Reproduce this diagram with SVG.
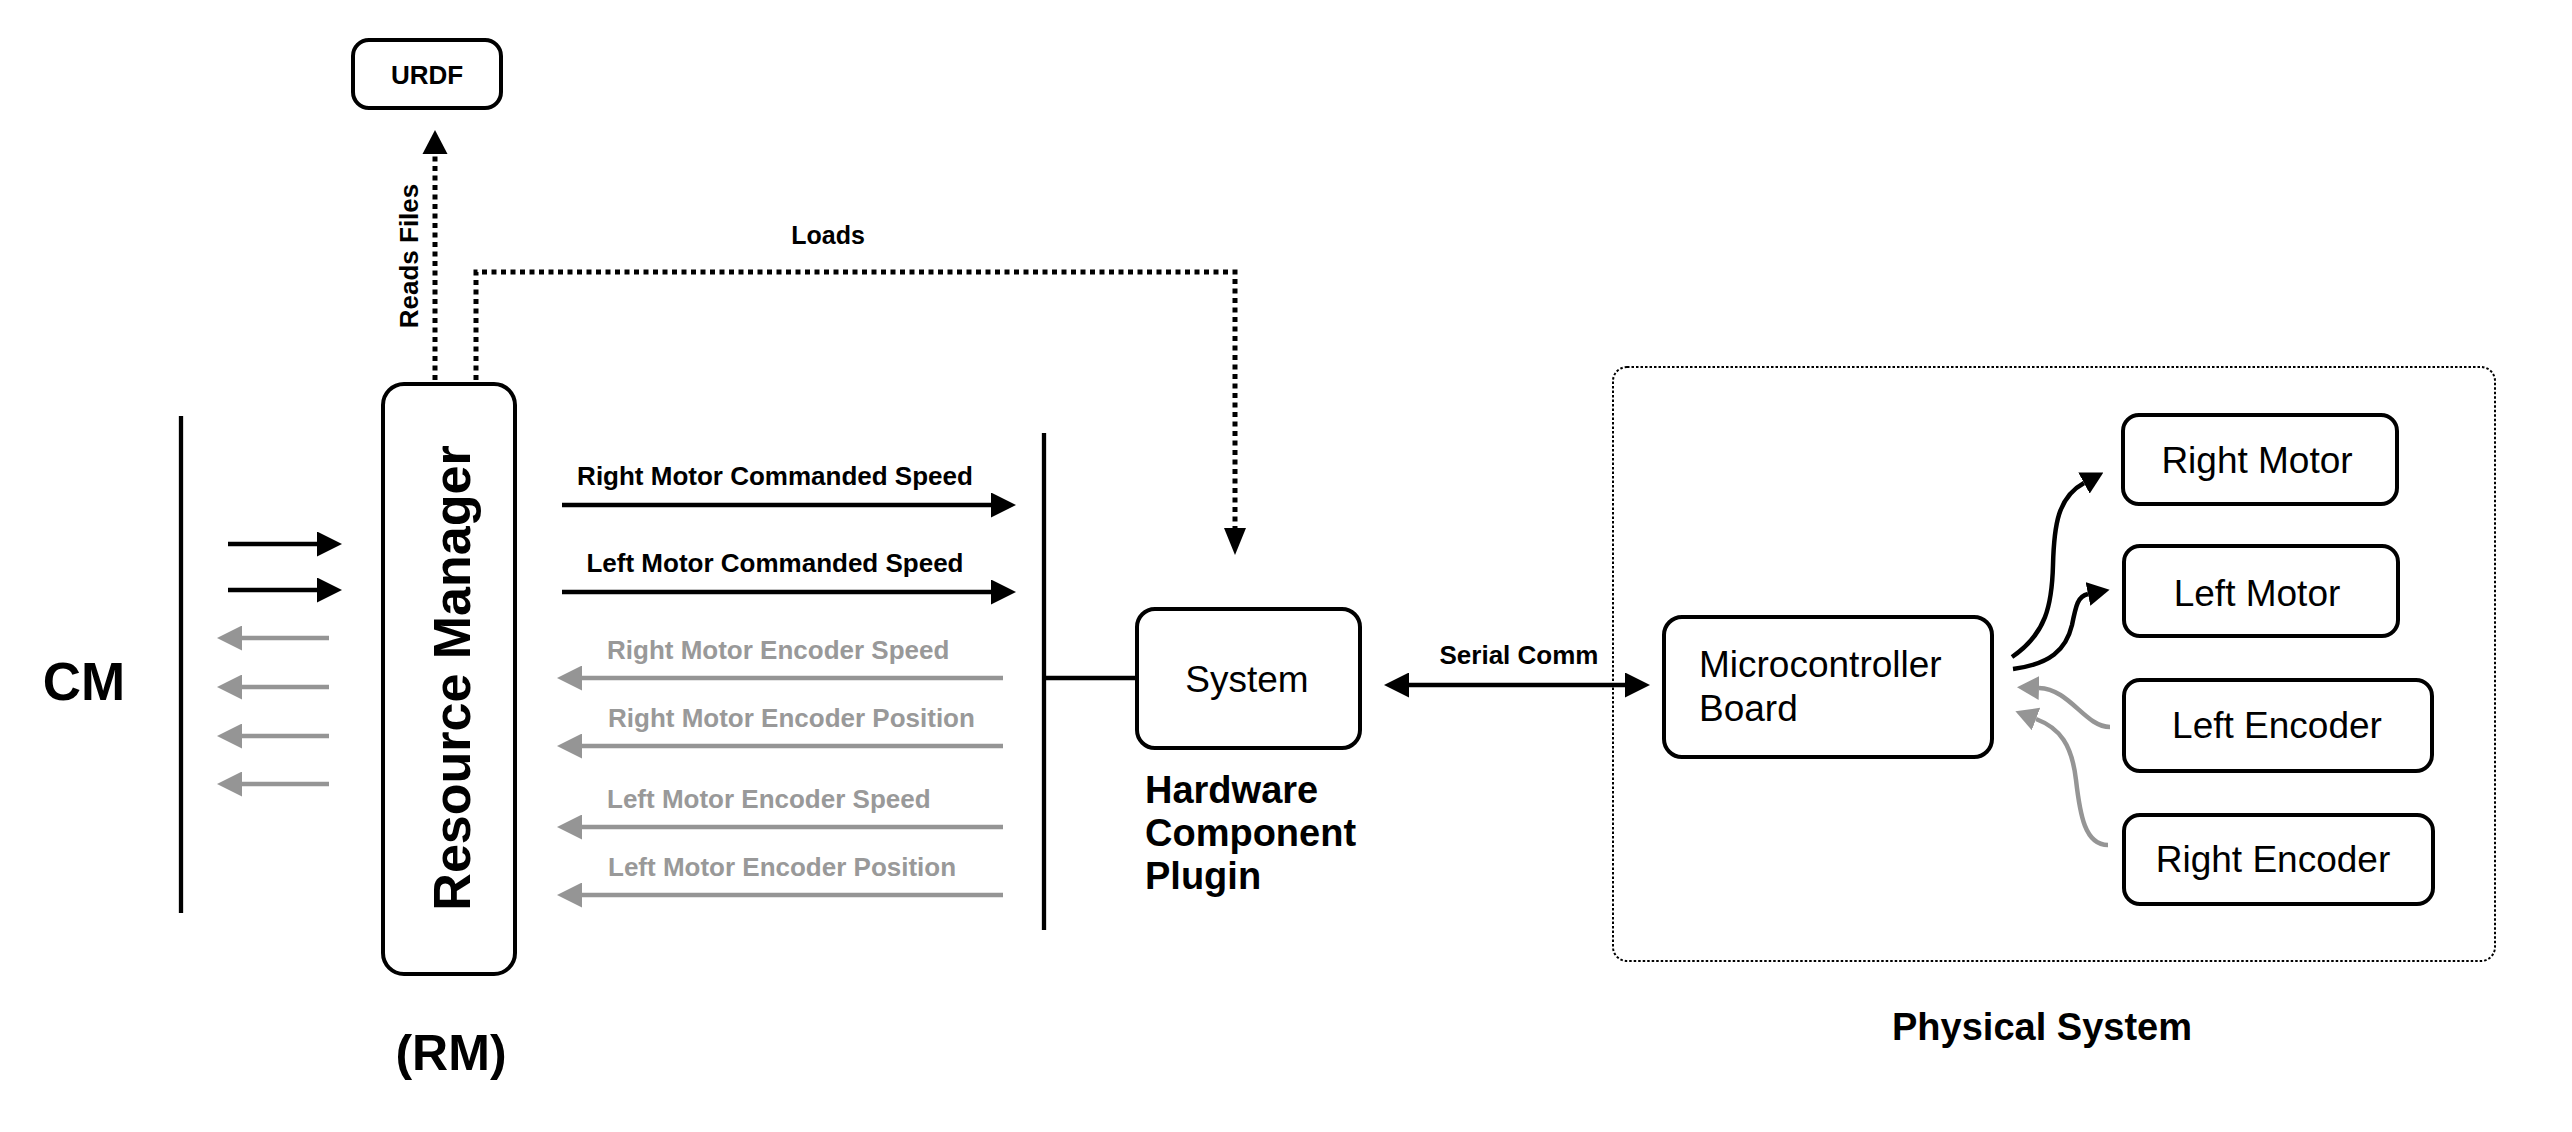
<svg xmlns="http://www.w3.org/2000/svg" width="2572" height="1132" viewBox="0 0 2572 1132">
  <style>
    text { font-family: "Liberation Sans", Arial, Helvetica, sans-serif; fill: #000; }
    .b { font-weight: bold; }
    .box { fill: #fff; stroke: #000; stroke-width: 4; }
    .ln { stroke: #000; stroke-width: 4.5; fill: none; }
    .gl { stroke: #959595; stroke-width: 4.5; fill: none; }
    .dot { stroke: #000; stroke-width: 5; fill: none; stroke-dasharray: 5 4.5; }
    .gt { fill: #999; font-weight: bold; font-size: 26px; }
    .lbl { font-weight: bold; font-size: 26px; }
    .node { font-size: 37px; }
  </style>
  <defs>
    <marker id="ab" markerUnits="userSpaceOnUse" viewBox="0 0 25 25" refX="0" refY="12.5" markerWidth="25" markerHeight="25" orient="auto-start-reverse">
      <path d="M0,0 L25,12.5 L0,25 Z" fill="#000"/>
    </marker>
    <marker id="ag" markerUnits="userSpaceOnUse" viewBox="0 0 25 25" refX="0" refY="12.5" markerWidth="25" markerHeight="25" orient="auto">
      <path d="M0,0 L25,12.5 L0,25 Z" fill="#959595"/>
    </marker>
    <marker id="abs" markerUnits="userSpaceOnUse" viewBox="0 0 22 24" refX="0" refY="12" markerWidth="22" markerHeight="24" orient="auto">
      <path d="M0,0 L22,12 L0,24 Z" fill="#000"/>
    </marker>
    <marker id="ags" markerUnits="userSpaceOnUse" viewBox="0 0 22 24" refX="0" refY="12" markerWidth="22" markerHeight="24" orient="auto">
      <path d="M0,0 L22,12 L0,24 Z" fill="#959595"/>
    </marker>
  </defs>

  <rect width="2572" height="1132" fill="#fff"/>

  <!-- Physical system container -->
  <g id="physical-system">
    <rect x="1613" y="367" width="882" height="594" rx="14" fill="none" stroke="#000" stroke-width="2" stroke-dasharray="2.5 2"/>
    <text class="b" x="2042" y="1040" font-size="38" text-anchor="middle">Physical System</text>
  </g>

  <!-- Connectors -->
  <g id="connectors">
    <!-- Reads Files -->
    <line class="dot" x1="435" y1="380" x2="435" y2="154"/>
    <path d="M422.5,154 L435,130 L447.5,154 Z" fill="#000"/>
    <text class="b" font-size="26" text-anchor="middle" transform="translate(418,256) rotate(-90)">Reads Files</text>
    <!-- Loads -->
    <path class="dot" d="M476,380 L476,272 L1235,272 L1235,528"/>
    <path d="M1224,528 L1235,555 L1246,528 Z" fill="#000"/>
    <text class="b" x="828" y="244" font-size="25" text-anchor="middle">Loads</text>

    <!-- CM <-> RM -->
    <line class="ln" x1="228" y1="544" x2="317" y2="544" marker-end="url(#ab)"/>
    <line class="ln" x1="228" y1="590" x2="317" y2="590" marker-end="url(#ab)"/>
    <line class="gl" x1="329" y1="638" x2="242" y2="638" marker-end="url(#ag)"/>
    <line class="gl" x1="329" y1="687" x2="242" y2="687" marker-end="url(#ag)"/>
    <line class="gl" x1="329" y1="736" x2="242" y2="736" marker-end="url(#ag)"/>
    <line class="gl" x1="329" y1="784" x2="242" y2="784" marker-end="url(#ag)"/>

    <!-- RM <-> hardware interface -->
    <text class="lbl" x="775" y="485" text-anchor="middle">Right Motor Commanded Speed</text>
    <line class="ln" x1="562" y1="505" x2="991" y2="505" marker-end="url(#ab)"/>
    <text class="lbl" x="775" y="572" text-anchor="middle">Left Motor Commanded Speed</text>
    <line class="ln" x1="562" y1="592" x2="991" y2="592" marker-end="url(#ab)"/>

    <text class="gt" x="607" y="659">Right Motor Encoder Speed</text>
    <line class="gl" x1="1003" y1="678" x2="582" y2="678" marker-end="url(#ag)"/>
    <text class="gt" x="608" y="727">Right Motor Encoder Position</text>
    <line class="gl" x1="1003" y1="746" x2="582" y2="746" marker-end="url(#ag)"/>
    <text class="gt" x="607" y="808">Left Motor Encoder Speed</text>
    <line class="gl" x1="1003" y1="827" x2="582" y2="827" marker-end="url(#ag)"/>
    <text class="gt" x="608" y="876">Left Motor Encoder Position</text>
    <line class="gl" x1="1003" y1="895" x2="582" y2="895" marker-end="url(#ag)"/>

    <!-- bus to System -->
    <line class="ln" x1="1044" y1="678" x2="1137" y2="678"/>

    <!-- Serial Comm -->
    <line class="ln" x1="1409" y1="685" x2="1625" y2="685" marker-start="url(#ab)" marker-end="url(#ab)"/>
    <text class="b" x="1519" y="664" font-size="26" text-anchor="middle">Serial Comm</text>

    <!-- Microcontroller -> motors -->
    <path class="ln" d="M2012,657 C2046,634 2052,605 2053,565 C2054,525 2058,497 2084,483" marker-end="url(#abs)"/>
    <path class="ln" d="M2013,669 C2050,664 2066,650 2072,625 C2076,605 2078,596 2088,594" marker-end="url(#abs)"/>
    <!-- Encoders -> Microcontroller -->
    <path class="gl" d="M2110,727 C2085,727 2070,689 2039,688" marker-end="url(#ags)"/>
    <path class="gl" d="M2108,845 C2085,845 2080,815 2076,780 C2072,745 2060,728 2036,719" marker-end="url(#ags)"/>
  </g>

  <!-- Nodes -->
  <g id="cm">
    <line x1="181" y1="416" x2="181" y2="913" stroke="#000" stroke-width="4.3"/>
    <text class="b" x="84" y="700" font-size="53" text-anchor="middle">CM</text>
  </g>

  <g id="urdf">
    <rect class="box" x="353" y="40" width="148" height="68" rx="16"/>
    <text class="b" x="427" y="84" font-size="26" text-anchor="middle">URDF</text>
  </g>

  <g id="resource-manager">
    <rect class="box" x="383" y="384" width="132" height="590" rx="21"/>
    <text class="b" font-size="52" text-anchor="middle" transform="translate(470,678) rotate(-90)">Resource Manager</text>
    <text class="b" x="451" y="1070" font-size="50" text-anchor="middle">(RM)</text>
  </g>

  <g id="hw-interface-bus">
    <line x1="1044" y1="433" x2="1044" y2="930" stroke="#000" stroke-width="4.3"/>
  </g>

  <g id="system">
    <rect class="box" x="1137" y="609" width="223" height="139" rx="18"/>
    <text class="node" x="1247" y="692" text-anchor="middle">System</text>
    <text class="b" font-size="38" x="1145" y="803">Hardware</text>
    <text class="b" font-size="38" x="1145" y="846">Component</text>
    <text class="b" font-size="38" x="1145" y="889">Plugin</text>
  </g>

  <g id="microcontroller">
    <rect class="box" x="1664" y="617" width="328" height="140" rx="18"/>
    <text class="node" x="1699" y="677">Microcontroller</text>
    <text class="node" x="1699" y="721">Board</text>
  </g>

  <g id="right-motor">
    <rect class="box" x="2123" y="415" width="274" height="89" rx="16"/>
    <text class="node" x="2257" y="473" text-anchor="middle">Right Motor</text>
  </g>

  <g id="left-motor">
    <rect class="box" x="2124" y="546" width="274" height="90" rx="16"/>
    <text class="node" x="2257" y="606" text-anchor="middle">Left Motor</text>
  </g>

  <g id="left-encoder">
    <rect class="box" x="2124" y="680" width="308" height="91" rx="16"/>
    <text class="node" x="2277" y="738" text-anchor="middle">Left Encoder</text>
  </g>

  <g id="right-encoder">
    <rect class="box" x="2124" y="815" width="309" height="89" rx="16"/>
    <text class="node" x="2273" y="872" text-anchor="middle">Right Encoder</text>
  </g>
</svg>
